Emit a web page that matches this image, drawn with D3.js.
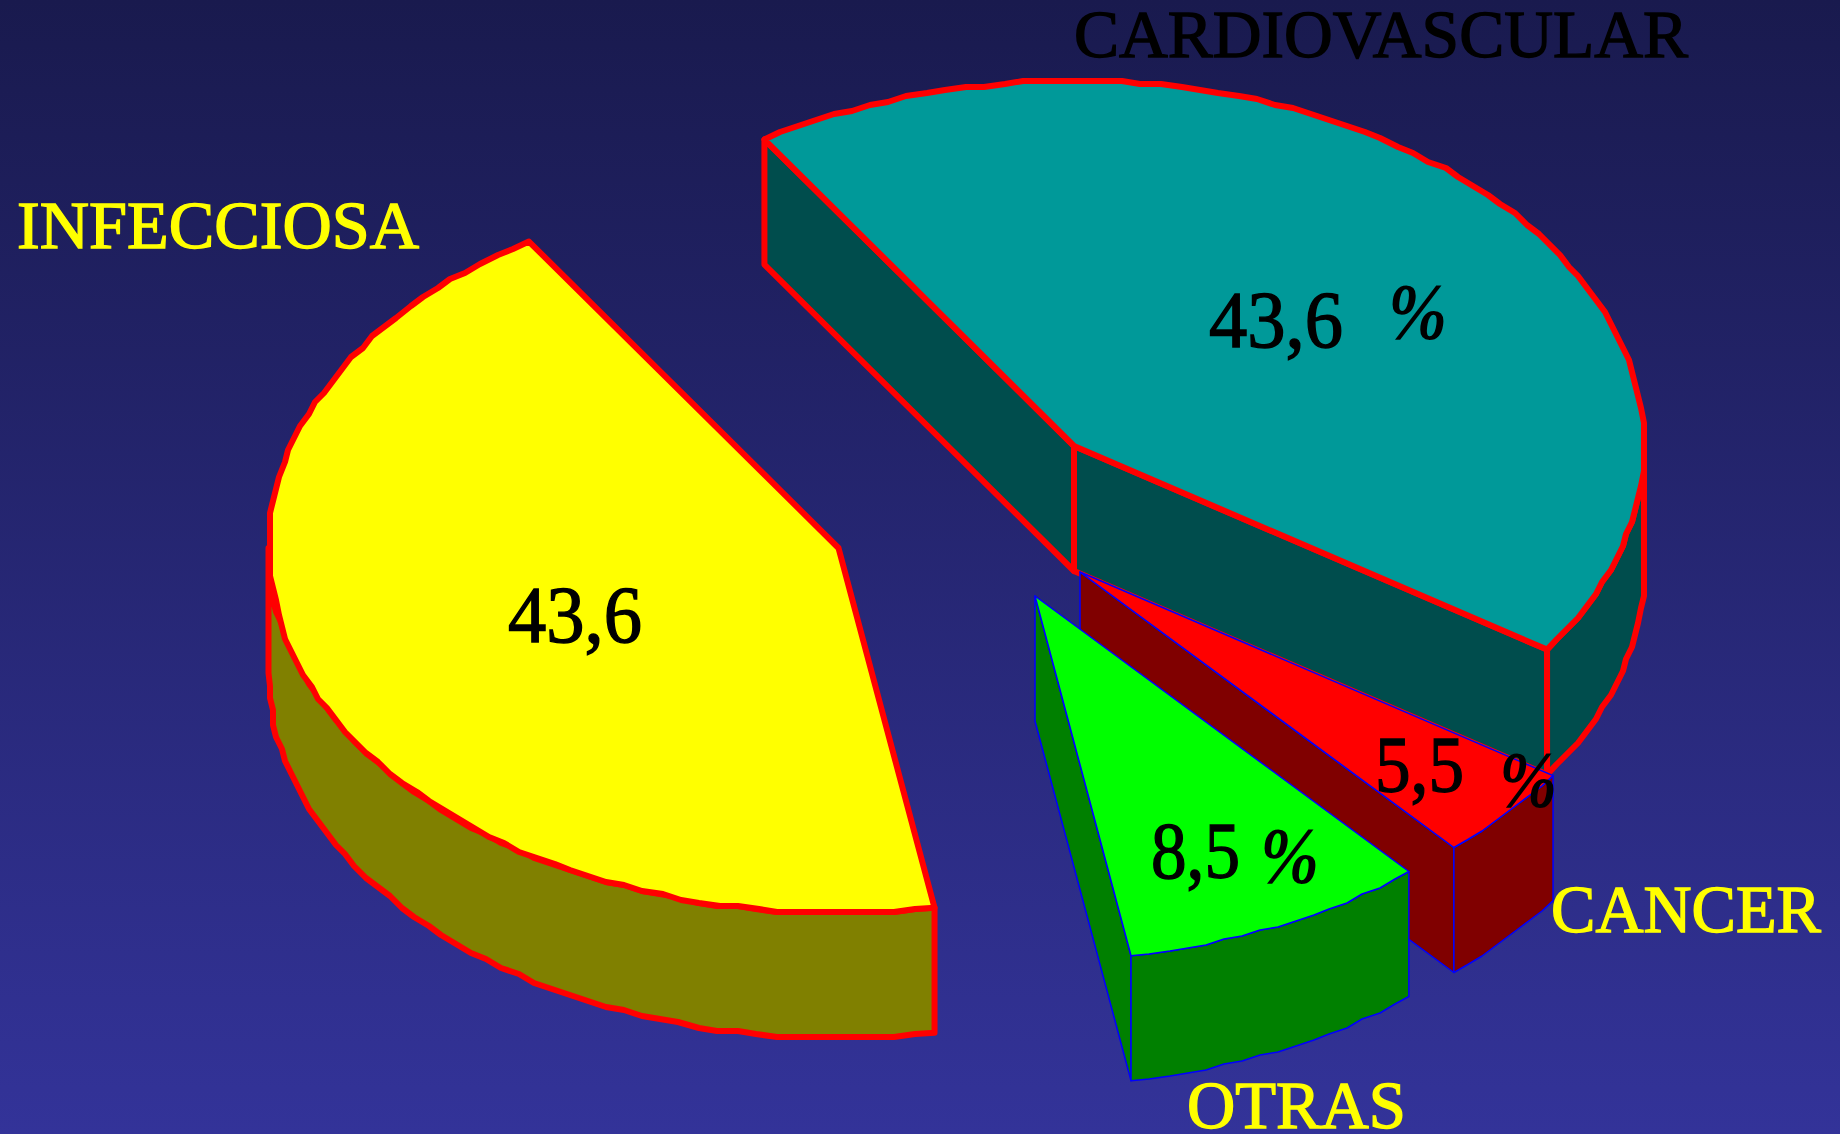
<!DOCTYPE html>
<html>
<head>
<meta charset="utf-8">
<script src="https://cdn.jsdelivr.net/npm/d3@7"></script>
<style>
  html, body { margin: 0; padding: 0; background: #333399; }
  svg { display: block; }
  text { font-family: "Liberation Serif", serif; }
</style>
</head>
<body>
<div id="vis"></div>
<script>
// Slices in drawing order, clockwise from the bottom of the pie
const names = ["INFECCIOSA", "CARDIOVASCULAR", "CANCER", "OTRAS"];
const shares = [43.6, 43.6, 4.2, 8.7];   // wedge size
const valueLabels = ["43,6", "43,6", "5,5", "8,5"];
const hasPercent = [false, true, true, true];
const topColors = ["#ffff00", "#009999", "#ff0000", "#00ff00"];
const sideColors = ["#808000", "#004d4d", "#800000", "#008000"];
const strokeColors = ["#ff0000", "#ff0000", "#0000ff", "#0000ff"];
const strokeWidths = [6, 6, 1.5, 1.5];

var width = 1840, height = 1134;
var rx = 570, ry = 365, depth = 125;
var firstAngle = 170.3 * Math.PI / 180;

// exploded centre of each wedge
var centers = [[838.5, 548], [1074, 446], [1080, 572], [1035, 596]];

// x, baseline, width of the text pieces
var nameBoxes = [[17, 248, 402], [1074, 57, 614], [1551, 932, 270], [1187, 1128, 219]];
var valueBoxes = [[508, 642, 134], [1209, 347, 134], [1375, 792, 89], [1151, 878, 89]];
var percentBoxes = [null, [1388, 339, 59], [1499, 807, 58], [1260, 883, 59]];

const svg = d3.select("#vis")
  .append("svg")
  .attr("width", width)
  .attr("height", height);

const grad = svg.append("defs").append("linearGradient")
  .attr("id", "bg")
  .attr("x1", 0).attr("y1", 0).attr("x2", 0).attr("y2", 1);
grad.append("stop").attr("offset", "0%").attr("stop-color", "#191a4e");
grad.append("stop").attr("offset", "100%").attr("stop-color", "#333399");

svg.append("rect")
  .attr("width", width)
  .attr("height", height)
  .attr("fill", "url(#bg)");

const pie = d3.pie()
  .sort(null)
  .startAngle(firstAngle)
  .endAngle(firstAngle + 2 * Math.PI);

const arcs = pie(shares);
const line = d3.line();
const closed = pts => line(pts) + "Z";

// the source outline is a coarse, stepped polyline, so snap rim points to a grid
const snap = v => Math.round(v / 3) * 3;

function rimPoint(c, a, dy) {
  return [c[0] + rx * Math.sin(a), c[1] - ry * Math.cos(a) + dy];
}

function rim(c, a0, a1, dy) {
  const n = Math.max(2, Math.ceil(Math.abs(a1 - a0) / (2 * Math.PI / 180)));
  return d3.range(n + 1).map(i => {
    const p = rimPoint(c, a0 + (a1 - a0) * i / n, dy);
    return (i === 0 || i === n) ? p : [snap(p[0]), snap(p[1])];
  });
}

// part of the rim that faces the viewer (lower half of the ellipse)
function frontRange(a0, a1) {
  for (let k = 0; k < 3; k++) {
    const lo = Math.max(a0, Math.PI / 2 + k * 2 * Math.PI);
    const hi = Math.min(a1, 3 * Math.PI / 2 + k * 2 * Math.PI);
    if (lo < hi) return [lo, hi];
  }
  return null;
}

const slices = svg.selectAll(".slice")
  .data(arcs)
  .join("g")
  .attr("class", "slice")
  .each(function(d, i) {
    const g = d3.select(this);
    const c = centers[i];

    const addPath = (pts, fill) => g.append("path")
      .attr("d", closed(pts))
      .attr("fill", fill)
      .attr("stroke", strokeColors[i])
      .attr("stroke-width", strokeWidths[i])
      .attr("stroke-linejoin", "round");

    // radial walls show only when the downward extrusion leaves the wedge
    if (Math.sin(d.startAngle) < 0) {
      const p = rimPoint(c, d.startAngle, 0);
      addPath([c, p, [p[0], p[1] + depth], [c[0], c[1] + depth]], sideColors[i]);
    }
    if (Math.sin(d.endAngle) > 0) {
      const p = rimPoint(c, d.endAngle, 0);
      addPath([c, p, [p[0], p[1] + depth], [c[0], c[1] + depth]], sideColors[i]);
    }

    const front = frontRange(d.startAngle, d.endAngle);
    if (front) {
      const upper = rim(c, front[0], front[1], 0);
      const lower = upper.map(p => [p[0], p[1] + depth]).reverse();
      addPath(upper.concat(lower), sideColors[i]);
    }

    addPath([c].concat(rim(c, d.startAngle, d.endAngle, 0)), topColors[i]);
  });

function fitText(box, str, size, fill, style) {
  const t = svg.append("text")
    .attr("x", box[0])
    .attr("y", box[1])
    .attr("font-size", size)
    .attr("fill", fill)
    .attr("stroke", fill)
    .attr("stroke-width", style ? 0 : 1.4)
    .attr("textLength", box[2])
    .attr("lengthAdjust", "spacingAndGlyphs")
    .text(str);
  if (style) t.attr("font-weight", "bold").attr("font-style", "italic");
}

names.forEach((n, i) => {
  fitText(nameBoxes[i], n, 68, i === 1 ? "#000000" : "#ffff00");
});

valueLabels.forEach((v, i) => {
  fitText(valueBoxes[i], v, 80, "#000000");
  if (hasPercent[i]) fitText(percentBoxes[i], "%", 80, "#000000", true);
});
</script>
</body>
</html>
